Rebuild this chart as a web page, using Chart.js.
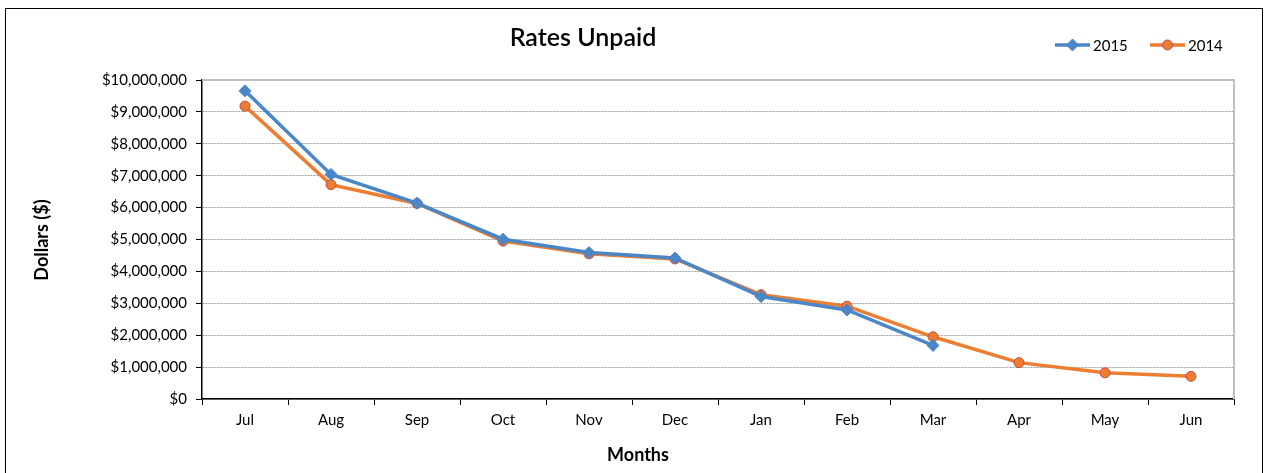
<!DOCTYPE html>
<html>
<head>
<meta charset="utf-8">
<title>Rates Unpaid</title>
<script src="https://cdn.jsdelivr.net/npm/chart.js@4/dist/chart.umd.min.js"></script>
<style>
    body { margin: 0; background: #ffffff; }
    #wrap { width: 1269px; height: 473px; }
</style>
</head>
<body>
<div id="wrap"><canvas id="ratesChart" width="1269" height="473"></canvas></div>
<script>
const months = ['Jul', 'Aug', 'Sep', 'Oct', 'Nov', 'Dec', 'Jan', 'Feb', 'Mar', 'Apr', 'May', 'Jun'];
const unpaid2015 = [9660000, 7040000, 6140000, 5010000, 4590000, 4420000, 3210000, 2790000, 1680000, null, null, null];
const unpaid2014 = [9180000, 6720000, 6130000, 4950000, 4550000, 4390000, 3270000, 2910000, 1950000, 1140000, 820000, 710000];
const yTicks = [0, 1000000, 2000000, 3000000, 4000000, 5000000, 6000000, 7000000, 8000000, 9000000, 10000000];

const fontFamily = 'Lato, "Open Sans", sans-serif';
const blue = '#4a86c8';
const orange = '#ed7d31';

function formatDollars(v) {
    return '$' + Number(v).toLocaleString('en-US');
}

// frame, plot border, title, legend and axis titles
const decorations = {
    id: 'decorations',
    beforeDraw(chart) {
        const ctx = chart.ctx;
        ctx.save();
        ctx.fillStyle = '#ffffff';
        ctx.fillRect(0, 0, chart.width, chart.height);
        ctx.strokeStyle = '#000000';
        ctx.lineWidth = 1;
        ctx.strokeRect(5.5, 8.5, 1257, 480);
        ctx.restore();
    },
    afterDraw(chart) {
        const ctx = chart.ctx;
        const area = chart.chartArea;
        ctx.save();

        ctx.strokeStyle = '#bfbfbf';
        ctx.lineWidth = 2;
        ctx.beginPath();
        ctx.moveTo(area.left, area.top);
        ctx.lineTo(area.right, area.top);
        ctx.lineTo(area.right, area.bottom);
        ctx.stroke();

        ctx.fillStyle = '#000000';
        ctx.textAlign = 'center';
        ctx.textBaseline = 'middle';
        ctx.font = '600 25px ' + fontFamily;
        ctx.fillText('Rates Unpaid', 583, 38);

        ctx.font = 'bold 18px ' + fontFamily;
        ctx.fillText('Months', 638, 455);
        ctx.save();
        ctx.translate(42, 240);
        ctx.rotate(-Math.PI / 2);
        ctx.fillText('Dollars ($)', 0, 0);
        ctx.restore();

        // legend: line with marker, then label
        const legendX = [1055, 1150];
        ctx.font = '15px ' + fontFamily;
        ctx.textAlign = 'left';
        chart.data.datasets.forEach((ds, i) => {
            const x = legendX[i];
            const y = 45;
            ctx.strokeStyle = ds.borderColor;
            ctx.lineWidth = 3.5;
            ctx.beginPath();
            ctx.moveTo(x, y);
            ctx.lineTo(x + 35, y);
            ctx.stroke();
            ctx.fillStyle = ds.pointBackgroundColor;
            ctx.strokeStyle = ds.pointBorderColor;
            ctx.lineWidth = 1;
            Chart.helpers.drawPoint(ctx, {
                pointStyle: ds.pointStyle,
                radius: ds.pointRadius,
                borderWidth: 1
            }, x + 17.5, y);
            ctx.fillStyle = '#000000';
            ctx.fillText(ds.label, x + 38, y + 1);
        });

        ctx.restore();
    }
};

function createRatesChart() {
    const ratesCtx = document.getElementById('ratesChart').getContext('2d');

    const ratesChartConfig = {
        type: 'line',
        data: {
            labels: months,
            datasets: [
                {
                    label: '2015',
                    data: unpaid2015,
                    borderColor: blue,
                    backgroundColor: blue,
                    borderWidth: 3.5,
                    pointStyle: 'rectRot',
                    pointRadius: 6,
                    pointBackgroundColor: blue,
                    pointBorderColor: blue,
                    pointBorderWidth: 1,
                    tension: 0,
                    spanGaps: false
                },
                {
                    label: '2014',
                    data: unpaid2014,
                    borderColor: orange,
                    backgroundColor: orange,
                    borderWidth: 3.5,
                    pointStyle: 'circle',
                    pointRadius: 5,
                    pointBackgroundColor: orange,
                    pointBorderColor: '#c0504d',
                    pointBorderWidth: 1,
                    tension: 0
                }
            ]
        },
        options: {
            responsive: false,
            animation: false,
            layout: {
                padding: { left: 0, top: 80, right: 35, bottom: 0 }
            },
            plugins: {
                legend: { display: false },
                title: { display: false },
                tooltip: { enabled: false }
            },
            scales: {
                x: {
                    offset: true,
                    afterFit(scale) { scale.height = 74; },
                    grid: {
                        offset: true,
                        drawOnChartArea: false,
                        tickLength: 6,
                        color: '#000000'
                    },
                    border: { color: '#000000', width: 1.5 },
                    ticks: {
                        color: '#000000',
                        padding: 6,
                        font: { family: fontFamily, size: 15 }
                    }
                },
                y: {
                    min: 0,
                    max: 10000000,
                    afterFit(scale) { scale.width = 202; },
                    afterBuildTicks(scale) {
                        scale.ticks = yTicks.map(v => ({ value: v }));
                    },
                    grid: {
                        color: '#a0a0a0',
                        tickColor: '#000000',
                        tickLength: 6,
                        tickBorderDash: []
                    },
                    border: { color: '#000000', width: 1.5, dash: [2, 1] },
                    ticks: {
                        color: '#000000',
                        padding: 9,
                        font: { family: fontFamily, size: 15 },
                        callback: value => formatDollars(value)
                    }
                }
            }
        },
        plugins: [decorations]
    };

    new Chart(ratesCtx, ratesChartConfig);
}

createRatesChart();
</script>
</body>
</html>
